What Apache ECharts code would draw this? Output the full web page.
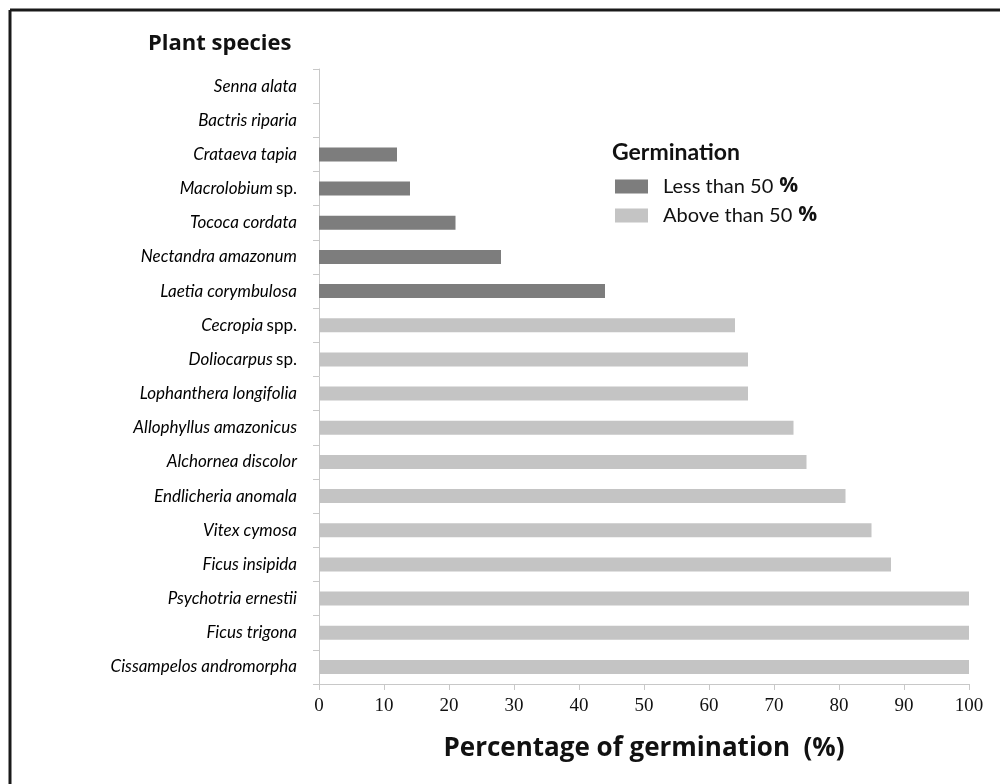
<!DOCTYPE html>
<html>
<head>
<meta charset="utf-8">
<script src="https://cdn.jsdelivr.net/npm/echarts@6/dist/echarts.min.js"></script>
<style>html,body{margin:0;padding:0;background:#fff;}#c{width:1000px;height:784px;}</style>
</head>
<body>
<div id="c"></div>
<script>
// Categories top to bottom
const species = [
  'Senna alata', 'Bactris riparia', 'Crataeva tapia', 'Macrolobium sp.', 'Tococa cordata',
  'Nectandra amazonum', 'Laetia corymbulosa', 'Cecropia spp.', 'Doliocarpus sp.',
  'Lophanthera longifolia', 'Allophyllus amazonicus', 'Alchornea discolor',
  'Endlicheria anomala', 'Vitex cymosa', 'Ficus insipida', 'Psychotria ernestii',
  'Ficus trigona', 'Cissampelos andromorpha'
];
const germination = [0, 0, 12, 14, 21, 28, 44, 64, 66, 66, 73, 75, 81, 85, 88, 100, 100, 100];
const xTicks = [0, 10, 20, 30, 40, 50, 60, 70, 80, 90, 100];
const seriesNames = ['Less than 50 %', 'Above than 50 %'];

const lowVals = germination.map(v => (v > 0 && v < 50) ? v : null);
const highVals = germination.map(v => (v >= 50) ? v : null);

const chart = echarts.init(document.getElementById('c'));
const sans = '"Open Sans", "Noto Sans", sans-serif';
const lato = 'Lato, "Open Sans", sans-serif';
chart.setOption({
  animation: false,
  backgroundColor: '#fff',
  grid: { left: 319, right: 31, top: 69, bottom: 100 },
  graphic: [
    { type: 'line', shape: { x1: 10, y1: 10, x2: 1000, y2: 10 }, style: { stroke: '#1a1a1a', lineWidth: 3 } },
    { type: 'line', shape: { x1: 10, y1: 10, x2: 10, y2: 784 }, style: { stroke: '#1a1a1a', lineWidth: 3 } },
    { type: 'text', left: 148, top: 33, style: { text: 'Plant species', font: 'bold 22px ' + sans, fill: '#111' } },
    { type: 'text', left: 612, top: 141, style: { text: 'Germination', font: 'bold 23px ' + lato, fill: '#111' } }
  ],
  legend: {
    orient: 'vertical',
    left: 610, top: 171,
    itemWidth: 33, itemHeight: 14, itemGap: 8,
    icon: 'rect',
    formatter: function (n) { return '{t|' + n.replace(/ %$/, '') + '}{s|}{p|%}'; },
    textStyle: {
      padding: [0, 0, 0, 10],
      rich: {
        t: { fontFamily: lato, fontSize: 20, color: '#111' },
        s: { width: 6 },
        p: { fontFamily: sans, fontWeight: 'bold', fontSize: 21, color: '#111' }
      }
    },
    data: seriesNames
  },
  xAxis: {
    type: 'value', min: 0, max: 100, interval: 10,
    name: 'Percentage of germination  (%)', nameLocation: 'middle', nameGap: 52,
    nameTextStyle: { fontFamily: sans, fontWeight: 'bold', fontSize: 26, color: '#111' },
    axisLine: { show: true, lineStyle: { color: '#c8c8c8', width: 1 } },
    axisTick: { show: true, length: 6, lineStyle: { color: '#c8c8c8' } },
    axisLabel: { fontFamily: '"Liberation Serif", "Times New Roman", serif', fontSize: 19, color: '#111', margin: 13,
      formatter: v => xTicks.includes(v) ? String(v) : '' },
    splitLine: { show: false }
  },
  yAxis: {
    type: 'category', inverse: true, data: species,
    axisLine: { show: true, lineStyle: { color: '#c8c8c8' } },
    axisTick: { show: true, length: 6, lineStyle: { color: '#c8c8c8' } },
    axisLabel: {
      margin: 22,
      formatter: function (s) {
        const m = s.match(/^(.*) (spp?\.)$/);
        if (m) return '{i|' + m[1] + '} {n|' + m[2] + '}';
        return '{i|' + s + '}';
      },
      rich: {
        i: { fontFamily: lato, fontStyle: 'italic', fontSize: 17, color: '#000' },
        n: { fontFamily: lato, fontSize: 17, color: '#000' }
      }
    }
  },
  series: [
    { name: seriesNames[0], type: 'bar', stack: 'g', data: lowVals, barWidth: 14,
      itemStyle: { color: '#7d7d7d' } },
    { name: seriesNames[1], type: 'bar', stack: 'g', data: highVals, barWidth: 14,
      itemStyle: { color: '#c4c4c4' } }
  ]
});
</script>
</body>
</html>
